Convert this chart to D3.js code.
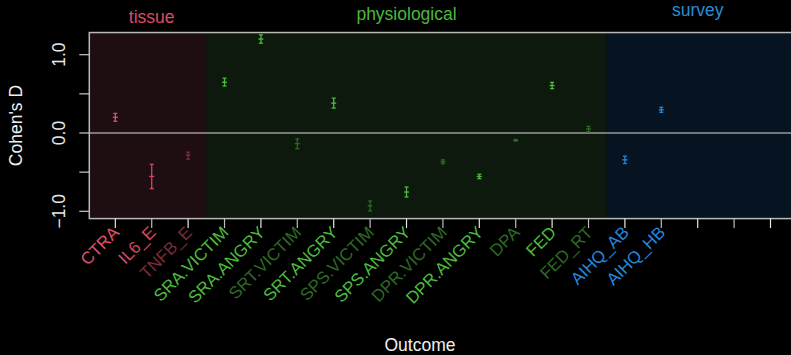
<!DOCTYPE html>
<html><head><meta charset="utf-8">
<script src="https://cdn.jsdelivr.net/npm/d3@7"></script>
<style>html,body{margin:0;padding:0;background:#000;overflow:hidden}svg{display:block}</style>
</head><body><svg id="c" width="791" height="355"></svg>
<script>
const outcomes = ["CTRA","IL6_E","TNFB_E","SRA.VICTIM","SRA.ANGRY","SRT.VICTIM","SRT.ANGRY","SPS.VICTIM","SPS.ANGRY","DPR.VICTIM","DPR.ANGRY","DPA","FED","FED_RT","AIHQ_AB","AIHQ_HB","","",""];
const estimates = [0.20,-0.555,-0.283,0.648,1.20,-0.136,0.381,-0.93,-0.754,-0.368,-0.555,-0.093,0.606,0.051,-0.343,0.296];
const lower = [0.15,-0.71,-0.334,0.60,1.147,-0.20,0.318,-0.995,-0.817,-0.393,-0.583,-0.103,0.566,0.016,-0.39,0.264];
const upper = [0.25,-0.40,-0.245,0.70,1.254,-0.076,0.445,-0.868,-0.69,-0.343,-0.527,-0.083,0.646,0.086,-0.296,0.328];
const pointColors = ["#e0506a","#d44862","#7a2c38","#4cbc3c","#4cbc3c","#2c6a24","#4cbc3c","#2c6a24","#4cbc3c","#2c6a24","#4cbc3c","#2c6a24","#4cbc3c","#2c6a24","#2288dd","#2288dd","#2288dd","#2288dd","#2288dd"];
const groups = ["tissue","physiological","survey"];
const groupStart = [0.5,3.5,14.5];
const groupEnd = [3.5,14.5,19.72];
const groupCenter = [2,9,17];
const groupColors = ["#dc4a64","#4cb83c","#2a8cd4"];
const groupBg = ["#1f0e11","#0e190d","#061320"];
const groupLabelBaseline = [23,19.5,16];
const yTicks = [-1,-0.5,0,0.5,1];
const yTickLabels = ["\u22121.0","","0.0","","1.0"];

(function(){
const svg = d3.select("#c");
const font = "'Liberation Sans', Arial, Helvetica, sans-serif";
const x = d3.scaleLinear().domain([0.285,19.72]).range([89.3,796.7]);
const y = d3.scaleLinear().domain([-1,1]).range([211.3,54.7]);
const yTop = y(1.283), yBot = y(-1.093);

groups.forEach((g,i)=>{
  const x0 = i===0 ? x(0.285) : x(groupStart[i]);
  svg.append("rect").attr("x",x0).attr("y",yTop).attr("width",x(groupEnd[i])-x0).attr("height",yBot-yTop).attr("fill",groupBg[i]);
  svg.append("text").attr("x",x(groupCenter[i])).attr("y",groupLabelBaseline[i]).attr("text-anchor","middle")
    .attr("font-family",font).attr("font-size",17.5).attr("fill",groupColors[i]).text(g);
});
svg.append("line").attr("x1",x(0.285)).attr("x2",x(19.72)).attr("y1",y(0)).attr("y2",y(0))
  .attr("stroke","rgba(205,205,205,0.72)").attr("stroke-width",1.6);
svg.append("rect").attr("x",x(0.285)).attr("y",yTop).attr("width",x(19.72)-x(0.285)).attr("height",yBot-yTop)
  .attr("fill","none").attr("stroke","#b8b8b8").attr("stroke-width",1.5);

yTicks.forEach((t,i)=>{
  svg.append("line").attr("x1",x(0.285)-10).attr("x2",x(0.285)).attr("y1",y(t)).attr("y2",y(t)).attr("stroke","#c8c8c8").attr("stroke-width",1.2);
  if(yTickLabels[i]) svg.append("text").attr("transform",`translate(65,${y(t)}) rotate(-90)`).attr("text-anchor","middle")
    .attr("font-family",font).attr("font-size",17.5).attr("fill","#e8e8e8").text(yTickLabels[i]);
});
svg.append("text").attr("transform",`translate(22,${(yTop+yBot)/2}) rotate(-90)`).attr("text-anchor","middle")
  .attr("font-family",font).attr("font-size",17.5).attr("fill","#f0f0f0").text("Cohen's D");

outcomes.forEach((o,i)=>{
  const xi = x(i+1);
  svg.append("line").attr("x1",xi).attr("x2",xi).attr("y1",yBot).attr("y2",yBot+9.5).attr("stroke",i%2? "#bdbdbd":"#e6e6e6").attr("stroke-width",1.2);
  if(o) svg.append("text").attr("transform",`translate(${xi+5},${yBot+15}) rotate(-45)`).attr("text-anchor","end")
    .attr("font-family",font).attr("font-size",17).attr("fill",pointColors[i]).text(o);
});
svg.append("text").attr("x",420).attr("y",351).attr("text-anchor","middle").attr("font-family",font).attr("font-size",17.5).attr("fill","#f0f0f0").text("Outcome");

estimates.forEach((e,i)=>{
  const g = svg.append("g").attr("stroke",pointColors[i]).attr("stroke-width",1.3);
  const xi = x(i+1);
  g.append("line").attr("x1",xi).attr("x2",xi).attr("y1",y(lower[i])).attr("y2",y(upper[i]));
  g.append("line").attr("x1",xi-2).attr("x2",xi+2).attr("y1",y(lower[i])).attr("y2",y(lower[i]));
  g.append("line").attr("x1",xi-2).attr("x2",xi+2).attr("y1",y(upper[i])).attr("y2",y(upper[i]));
  g.append("line").attr("x1",xi-2.5).attr("x2",xi+2.5).attr("y1",y(e)).attr("y2",y(e));
});
})();
</script></body></html>
